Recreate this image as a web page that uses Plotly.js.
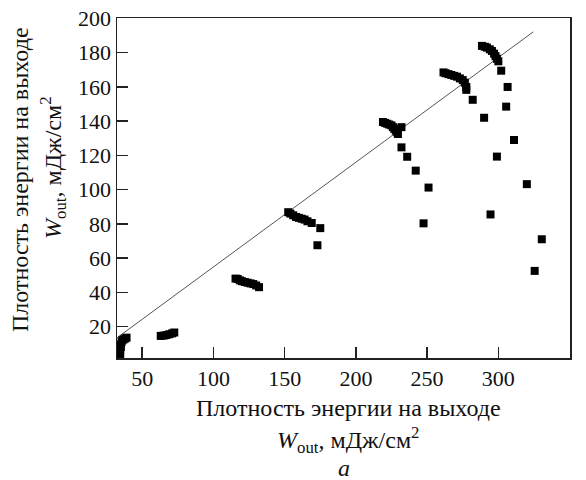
<!DOCTYPE html>
<html>
<head>
<meta charset="utf-8">
<script src="https://cdn.plot.ly/plotly-3.0.1.min.js"></script>
<style>html,body{margin:0;padding:0;background:#fff;}#chart{width:586px;height:480px;}</style>
</head>
<body>
<div id="chart"></div>
<script>
// Measured points (input energy density vs output energy density)
const pointsX = [
  34.5, 34.5, 34.5, 35, 35, 35.5, 36, 37, 38, 39,
  63, 65, 67, 69, 71, 72.5,
  115.5, 117, 118.5, 120, 122, 124, 126, 128, 130, 132,
  152.5, 154, 156, 158, 160, 162, 164, 166, 169, 175, 173,
  219, 220.5, 222, 223.5, 225, 226, 227, 228, 229, 229.5, 232, 232, 236, 242, 251, 247.5,
  261.5, 263, 265, 267, 269, 271, 273, 275, 276.5, 277.5, 277.5, 282, 290, 299, 294.5,
  288.5, 290.5, 292, 294, 295.5, 297, 298, 299, 300, 302, 306.5, 305.5, 311, 320, 330.5, 325.5
];
const pointsY = [
  2.5, 4.5, 6.5, 8, 9.5, 11, 12, 12.5, 13, 13.5,
  14.5, 14.7, 15, 15.5, 16, 16.5,
  48, 47.8, 47, 46.5, 46, 45.6, 45.2, 44.8, 44, 43,
  86.8, 86, 85, 84, 83.5, 83, 82.5, 81.5, 80.5, 77.5, 67.5,
  139.5, 139, 138.5, 138, 137.5, 136.5, 135.5, 134.5, 133.5, 132.5, 136.5, 124.7, 119.2, 111.1, 101.2, 80.3,
  168.5, 168, 167.5, 167, 166.5, 166, 165, 164, 162.5, 160, 158.3, 152.5, 142, 119.3, 85.5,
  184, 183.5, 183, 182, 181, 179.5, 178, 176.5, 175, 169.5, 160, 148.5, 129, 103.2, 71, 52.5
];
// Reference straight line
const lineX = [32.3, 324.5];
const lineY = [13.4, 192.2];

const xTicks = [50, 100, 150, 200, 250, 300, 350];
const yTicks = [20, 40, 60, 80, 100, 120, 140, 160, 180, 200];

const serif = "Liberation Serif";
const titleFont = {family: serif, size: 24, color: "#111"};

const traces = [
  {
    x: lineX, y: lineY, type: "scatter", mode: "lines",
    line: {color: "#555", width: 1}, hoverinfo: "skip", showlegend: false
  },
  {
    x: pointsX, y: pointsY, type: "scatter", mode: "markers",
    marker: {symbol: "square", size: 8, color: "#000"}, showlegend: false
  }
];

const axisCommon = {
  showgrid: false, zeroline: false,
  showline: true, linecolor: "#222", linewidth: 1.5, mirror: true,
  ticks: "inside", ticklen: 11, tickwidth: 1.5, tickcolor: "#222",
  tickfont: {family: serif, size: 22, color: "#111"}
};

const layout = {
  width: 586, height: 480,
  margin: {l: 117, r: 16, t: 18, b: 122},
  paper_bgcolor: "#fff", plot_bgcolor: "#fff",
  font: {family: serif, color: "#111"},
  xaxis: Object.assign({}, axisCommon, {
    range: [32.3, 350.3], tickmode: "array", tickvals: xTicks, ticktext: xTicks.map(String)
  }),
  yaxis: Object.assign({}, axisCommon, {
    range: [1.6, 200.3], tickmode: "array", tickvals: yTicks, ticktext: yTicks.map(String)
  }),
  annotations: [
    {text: "Плотность энергии на выходе", xref: "paper", yref: "paper", x: 0.51, y: 0,
     xanchor: "center", yanchor: "middle", yshift: -50, showarrow: false, font: titleFont},
    {text: "<i>W</i><sub>out</sub>, мДж/см<sup>2</sup>", xref: "paper", yref: "paper", x: 0.51, y: 0,
     xanchor: "center", yanchor: "middle", yshift: -82, showarrow: false, font: titleFont},
    {text: "<i>a</i>", xref: "paper", yref: "paper", x: 0.5, y: 0,
     xanchor: "center", yanchor: "middle", yshift: -110, showarrow: false, font: titleFont},
    {text: "Плотность энергии на выходе", xref: "paper", yref: "paper", x: 0, y: 0.5235,
     xanchor: "center", yanchor: "middle", xshift: -97, textangle: -90, showarrow: false, font: titleFont},
    {text: "<i>W</i><sub>out</sub>, мДж/см<sup>2</sup>", xref: "paper", yref: "paper", x: 0, y: 0.559,
     xanchor: "center", yanchor: "middle", xshift: -64, textangle: -90, showarrow: false, font: titleFont}
  ]
};

Plotly.newPlot("chart", traces, layout, {displayModeBar: false, staticPlot: true});
</script>
</body>
</html>
